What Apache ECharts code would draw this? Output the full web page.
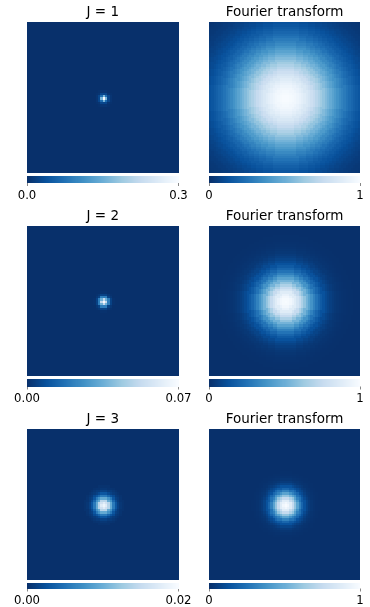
<!DOCTYPE html>
<html><head><meta charset="utf-8">
<script src="https://cdn.jsdelivr.net/npm/echarts@6/dist/echarts.min.js"></script>
<style>html,body{margin:0;padding:0;background:#fff}#c{width:370px;height:607px}</style>
</head><body><div id="c"></div>
<script>
// ---- data ----
const panelTitles = ['J = 1', 'Fourier transform', 'J = 2', 'Fourier transform', 'J = 3', 'Fourier transform'];
const colorMax = [0.3, 1, 0.07, 1, 0.02, 1];
const colorbarTickLabels = [['0.0', '0.3'], ['0', '1'], ['0.00', '0.07'], ['0', '1'], ['0.00', '0.02'], ['0', '1']];
const cellsPerSide = 64;
const centerCell = 32;
// radial profiles (value vs. distance from centre cell)
const profileJ1 = [0.3, 0.22, 0.16, 0.07, 0.025, 0.012, 0.006, 0.002];            // step 0.5 cell
const profileFT1 = [1.0, 0.998, 0.992, 0.982, 0.968, 0.951, 0.930, 0.906, 0.880, 0.850,
  0.819, 0.785, 0.749, 0.713, 0.675, 0.637, 0.599, 0.560, 0.522, 0.485,
  0.449, 0.413, 0.379, 0.346, 0.315, 0.286, 0.258, 0.232, 0.208, 0.185,
  0.165, 0.146, 0.128, 0.113, 0.099, 0.086, 0.075, 0.064, 0.055, 0.047,
  0.041, 0.034, 0.029, 0.025, 0.021, 0.017, 0.014];                                  // step 1 cell
const profileJ2 = [0.07, 0.065, 0.052, 0.036, 0.021, 0.011, 0.0047, 0.0018, 0.0006];  // step 0.5 cell
const profileFT2 = [1.0, 0.992, 0.969, 0.931, 0.880, 0.819, 0.750, 0.676, 0.599, 0.523,
  0.449, 0.380, 0.316, 0.259, 0.208, 0.165, 0.129, 0.099, 0.075, 0.056,
  0.041, 0.029, 0.021, 0.015, 0.010, 0.007, 0.004, 0.003, 0.002, 0.001];             // step 1 cell
const profileJ3 = [0.019, 0.0187, 0.0176, 0.016, 0.0141, 0.0119, 0.0096, 0.0076, 0.0057,
  0.0042, 0.0029, 0.002, 0.0013, 0.0008, 0.0005, 0.0003, 0.0002];                     // step 0.5 cell
const profileFT3 = [1.0, 0.992, 0.968, 0.930, 0.880, 0.818, 0.749, 0.675, 0.599, 0.523,
  0.449, 0.379, 0.315, 0.258, 0.208, 0.165, 0.129, 0.099, 0.074, 0.055,
  0.041, 0.029, 0.021, 0.014, 0.010, 0.007, 0.004, 0.003, 0.002, 0.001];             // step 0.5 cell
const profiles = [profileJ1, profileFT1, profileJ2, profileFT2, profileJ3, profileFT3];
const profileStep = [0.5, 1, 0.5, 1, 0.5, 0.5];

// ---- styling / layout ----
const blues = ['#08306b', '#08519c', '#2171b5', '#4292c6', '#6baed6', '#9ecae1', '#c6dbef', '#deebf7', '#f7fbff'];
const FONT = 'DejaVu Sans';
const colX = [27, 209], colW = [151.5, 151];
const rowY = [22, 225.5, 429], rowH = 150.5;
const barGap = 153.5, barH = 7.5, rampCells = 150;

function buildGrid(p) {
  const prof = profiles[p], step = profileStep[p], out = [];
  for (let i = 0; i < cellsPerSide; i++) {
    for (let j = 0; j < cellsPerSide; j++) {
      const r = Math.hypot(i - centerCell, j - centerCell);
      const k = Math.round(r / step);
      out.push([i, j, k < prof.length ? prof[k] : 0]);
    }
  }
  return out;
}
const cellCats = Array.from({length: cellsPerSide}, (_, i) => i);
const rampCats = Array.from({length: rampCells}, (_, i) => i);

// cell renderer: rect per category cell, edges snapped to whole pixels so neighbours tile exactly
function renderCell(params, api) {
  const pt = api.coord([api.value(0), api.value(1)]);
  const sz = api.size([1, 1]);
  const x0 = Math.round(pt[0] - sz[0] / 2), x1 = Math.round(pt[0] + sz[0] / 2);
  const y0 = Math.round(pt[1] - sz[1] / 2), y1 = Math.round(pt[1] + sz[1] / 2);
  return {type: 'rect', shape: {x: x0, y: y0, width: x1 - x0, height: y1 - y0},
    style: {fill: api.visual('color'), lineWidth: 0}, silent: true};
}

const grid = [], xAxis = [], yAxis = [], series = [], visualMap = [], graphic = [];
for (let p = 0; p < 6; p++) {
  const c = p % 2, r = Math.floor(p / 2);
  const gx = colX[c], gw = colW[c], gy = rowY[r];
  const gMain = grid.length;
  grid.push({left: gx, top: gy, width: gw, height: rowH});
  const gBar = grid.length;
  grid.push({left: gx, top: gy + barGap, width: gw, height: barH});
  const xMain = xAxis.length;
  xAxis.push({type: 'category', gridIndex: gMain, data: cellCats, show: false, position: 'top'});
  const xBar = xAxis.length;
  xAxis.push({type: 'category', gridIndex: gBar, data: rampCats, show: false, position: 'top'});
  xAxis.push({
    type: 'value', gridIndex: gBar, min: 0, max: 1, interval: 1, position: 'bottom',
    axisLine: {show: false}, splitLine: {show: false},
    axisTick: {show: true, length: 3, lineStyle: {color: '#888', width: 1}},
    axisLabel: {show: true, margin: 6.5, fontFamily: FONT, fontSize: 11.7, color: '#000',
      showMinLabel: true, showMaxLabel: true,
      formatter: (v) => colorbarTickLabels[p][v >= 0.5 ? 1 : 0]}
  });
  const yMain = yAxis.length;
  yAxis.push({type: 'category', gridIndex: gMain, data: cellCats, show: false, inverse: true});
  const yBar = yAxis.length;
  yAxis.push({type: 'category', gridIndex: gBar, data: [0], show: false});
  const sMain = series.length;
  series.push({type: 'custom', xAxisIndex: xMain, yAxisIndex: yMain, data: buildGrid(p),
    encode: {x: 0, y: 1}, renderItem: renderCell, progressive: 0, animation: false});
  const sBar = series.length;
  series.push({type: 'custom', xAxisIndex: xBar, yAxisIndex: yBar,
    data: rampCats.map(i => [i, 0, colorMax[p] * i / (rampCells - 1)]),
    encode: {x: 0, y: 1}, renderItem: renderCell, progressive: 0, animation: false});
  visualMap.push({type: 'continuous', show: false, min: 0, max: colorMax[p], dimension: 2,
    seriesIndex: [sMain, sBar], inRange: {color: blues}});
  graphic.push({type: 'text', x: gx + gw / 2, y: gy - 9.5,
    style: {text: panelTitles[p], align: 'center', verticalAlign: 'middle', fontFamily: FONT, fontSize: 13.5, fill: '#000'}});
}

const chart = echarts.init(document.getElementById('c'), null, {renderer: 'canvas'});
chart.setOption({animation: false, backgroundColor: '#fff', grid, xAxis, yAxis, series, visualMap, graphic});
</script>
</body></html>
